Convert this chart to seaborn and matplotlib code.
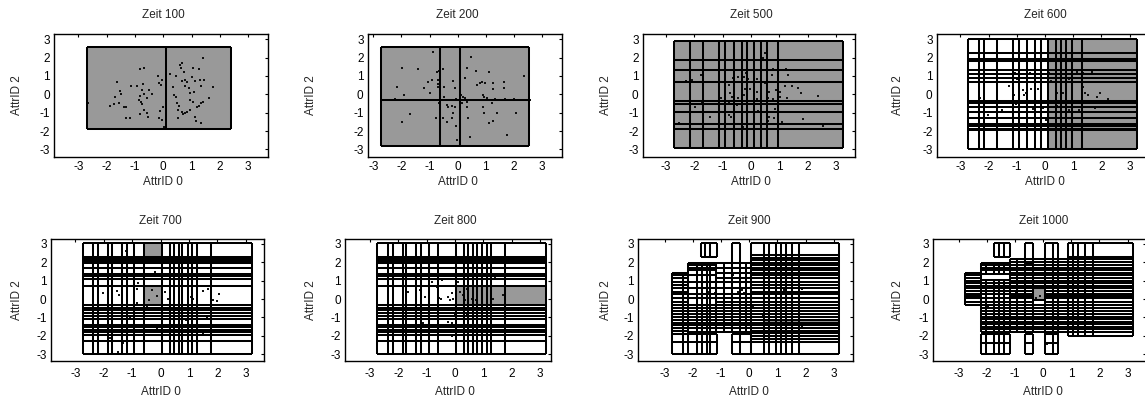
import matplotlib
matplotlib.use("Agg")
import matplotlib.pyplot as plt
import seaborn as sns

# ---------------- data ----------------
times = [100, 200, 500, 600, 700, 800, 900, 1000]
ticks = [-3, -2, -1, 0, 1, 2, 3]

# points (AttrID 0, AttrID 2)
p100_x = [-2.65, -2.68, -0.82, -0.67, -1.65, -1.53, -1.51, -1.71, -1.88, -1.73, -1.55, -1.39, -1.32, -1.32, -1.18,
          -1.15, -0.94, -0.76, -0.73, -0.82, -0.87, -0.79, -0.68, -0.59, -0.51, -0.40, -0.74, -0.68, -0.59, -0.82,
          -0.53, -0.18, -0.14, -0.06, -0.09, -0.15, -0.04, -0.02, -0.12, 0.02, 0.24, 0.44, 0.59, 0.67, 0.62, 0.73,
          0.76, 0.65, 0.85, 0.33, 0.38, 0.45, 0.49, 0.56, 0.76, 0.91, 1.00, 1.12, 1.29, 1.44, 0.96, 1.08, 1.35, 1.39,
          1.26, 1.06, 0.65, 0.71, 0.78, 0.85, 0.96, 1.06, 0.94, 1.18, 1.27, 1.35, 1.41, 1.62, 1.76, 1.12, 1.15, 1.34,
          0.51, 0.53]
p100_y = [-0.49, 0.27, 1.38, 1.44, 0.69, 0.20, 0.02, -0.16, -0.64, -0.53, -0.45, -0.71, -0.71, -1.31, -1.31,
          0.45, 0.45, 0.24, 0.56, -0.07, -0.31, -0.40, 0.02, -0.18, 0.24, 0.02, -0.55, -0.85, -1.00, -1.09,
          -1.22, 1.00, 0.60, 0.78, 0.49, -1.31, -1.40, -0.71, -0.89, -1.76, 1.11, 1.00, 1.60, 1.69, 1.42, 1.24,
          0.78, 0.75, 0.69, 0.38, -0.04, -0.13, -0.45, -0.64, 0.45, 0.33, 0.96, 0.75, 0.78, 0.78, 0.05, 0.15, 0.45, 1.96,
          1.38, 1.42, -0.95, -1.07, -1.04, -0.95, -0.85, -0.40, -0.31, -0.67, -0.64, -0.49, -0.40, -0.22, 0.38, -1.22, -1.44, -1.55,
          -1.31, -0.85]

p200_x = [-0.87, -1.99, -1.42, -2.17, -2.23, -1.90, -1.70, -1.99, -1.19, -1.07, -0.93, -0.98, -0.75, -0.66, -0.69,
          -0.71, -0.69, -0.65, -0.66, -0.78, -0.51, -0.47, -0.47, -0.39, -0.33, -0.37, -0.51, -0.21, -0.18, -0.09,
          -0.07, -0.09, -0.15, -0.21, -0.07, -0.04, 0.46, 0.32, 0.26, 0.12, 0.20, 0.26, 0.32, 0.32, 0.36, 0.14, 0.44,
          0.65, 0.68, 0.79, 0.85, 0.97, 0.89, 0.95, 1.03, 1.12, 0.89, 0.94, 1.27, 1.27, 1.33, 1.21, 1.27, 1.12, 1.39,
          1.63, 1.66, 1.68, 1.74, 2.02, 2.08, 2.37, 2.57]
p200_y = [2.33, 1.45, 1.38, 0.38, -0.27, -0.04, -1.09, -1.49, 0.33, 0.69, 0.78, 0.09, 1.24, 1.29, 0.78,
          0.55, 0.42, -0.31, -0.49, -1.31, 1.36, 0.38, -0.13, -0.58, -0.67, -1.49, -1.31, -0.64, 0.75, 0.33,
          -0.27, -0.71, -1.04, -1.31, -1.73, -2.49, 2.05, 1.42, 0.91, -0.04, -0.13, -0.22, -0.40, -0.67, -1.27, -0.49, -2.35,
          1.29, 0.51, 0.60, 0.69, 0.64, -0.04, -0.13, -0.22, 1.24, -0.71, -1.04, 0.64, 0.27, -0.27, -0.45, -1.44, -1.58, -1.04,
          0.69, 0.33, -0.27, -2.22, -0.27, -1.04, 1.00, -0.31]

p500_x = [0.49, 0.41, -1.76, -2.07, -2.31, 0.76, 1.22, 1.29, 0.73, 0.22, -0.09, -0.18, -0.24, -0.65, -0.45,
          -0.76, 0.49, 1.20, 1.44, 1.65, 1.76, 2.35, 1.02, 0.88, 0.65, 0.20, -0.04, -0.21, -0.24, -0.74, -0.68,
          -1.12, -0.92, -1.04, -0.76, -0.45, -0.15, -0.04, 0.22, 0.61, 0.76, 1.02, 1.26, -1.74, -1.98, -1.45,
          -0.76, -0.72, -0.51, 0.26, 0.85, 0.91, 0.65, 0.61, 0.82, 1.08, 1.85, 2.55, -2.53, -0.29]
p500_y = [2.26, 1.96, 1.05, 0.78, 0.74, 1.36, 1.36, 1.05, 1.05, 0.83, 0.82, 1.14, 0.96, 0.91, 0.96,
          0.51, 0.60, 0.45, 0.45, 0.36, 0.05, -0.07, 0.14, 0.24, 0.14, 0.14, 0.27, 0.27, -0.04, 0.05, -0.13,
          0.18, -0.40, -0.22, -0.40, -0.18, -0.27, -0.34, -0.27, -0.22, -0.27, -0.13, -0.22, -0.49, -0.71, -1.25,
          -1.12, -1.25, -0.58, -0.89, -0.80, -0.94, -1.25, -1.45, -1.30, -1.52, -1.34, -1.72, -1.54, -1.79]

p600_x = [-2.30, -2.01, -1.54, -1.26, -1.06, -0.98, -1.10, -0.77, -0.74, -0.67, -0.63, -0.53, -0.50, -0.41,
          -0.24, -0.15, -0.06, 0.04, 0.15, 0.21, 0.41, 0.44, 0.65, 0.85, 0.86, 1.12, 1.19, 1.36, 1.36, 1.42,
          1.54, 1.65, 1.77, 1.95, 1.83, 2.25, -0.65, -1.03]
p600_y = [-0.18, -1.12, -0.85, 0.45, 1.14, 0.82, -0.04, 0.24, -0.04, 0.05, -0.76, 1.14, 0.27, -0.82,
          0.27, 0.05, -0.76, -1.39, 1.14, 0.74, -0.63, 0.05, 0.05, 0.82, -0.85, 1.23, -0.85, 1.14, 0.42, 0.05,
          -0.04, 1.23, -0.76, 0.09, -0.13, -0.27, -0.53, -0.53]

p700_x = [-2.02, -1.52, -1.45, -1.20, -0.84, -0.84, -1.22, -0.90, -1.78, -1.31, -1.49, 0.77, 1.06, 1.15,
          1.50, 1.68, 2.06, 1.97, 0.74, 0.27, 0.15, -0.14, -0.32, -0.41, -0.49, -0.20, 0.21, 0.56, -0.12,
          0.91, 1.27, 1.62, 3.02, 1.48, -0.75, -1.08, 1.85, -0.20, -0.79]
p700_y = [0.34, 0.45, 0.22, -0.05, 0.52, -0.24, 2.62, -1.68, -2.13, -2.40, -2.86, 0.94, 0.13, 0.02,
          0.45, 0.52, 0.25, -0.09, -0.14, -0.02, 0.40, 0.16, 0.49, -0.05, -0.42, -0.78, -0.60, -0.78, -1.56,
          -1.14, -0.60, -0.96, -0.60, -1.86, -0.78, -1.05, -0.05, 1.48, 0.85]

p800_x = [-1.06, -0.91, -0.82, -0.47, -0.65, -1.24, -1.65, -1.06, -0.56, -0.49, -0.24, -0.18, -0.12, -0.06,
          0.12, 0.18, 0.29, 0.35, 0.41, 0.59, 0.76, 1.35, 1.71, -0.92, -0.47, -0.24, -0.12, 0.00, -0.59,
          -0.12, 0.41, 1.41, 1.06, 0.12, -0.29, -1.12, -0.59]
p800_y = [1.66, 0.94, 0.94, 1.03, 0.63, 0.49, 0.40, 0.13, 0.04, -0.02, 0.13, -0.05, 0.31, -0.02,
          0.94, 0.40, 0.22, -0.05, 0.52, -0.02, -0.05, -0.02, 0.22, -0.27, -0.78, -1.23, -1.28, -0.87, -1.18,
          -2.00, -0.87, 1.12, 1.66, 2.03, 2.03, -1.32, -0.24]

p900_x = [-1.46, -1.23, -0.47, -0.41, -0.26, -0.18, 0.44, 1.05, 1.23, 1.87, 0.12, 0.29, 0.47, -0.47,
          -0.88, -1.29, 0.88, 1.17, 1.87, -1.05, -0.58]
p900_y = [0.37, 0.31, 0.59, 0.40, 0.50, 0.31, 0.59, 0.59, 0.50, 0.55, -0.42, -0.51, -0.88, -0.97,
          -0.97, -0.97, -1.43, -1.34, -1.52, 0.95, 1.32]

p1000_x = [-1.95, -1.12, -0.97, -0.26, -0.12, 0.95, 1.18, 2.19, 1.36, 1.54, 0.12, -1.95, -0.59]
p1000_y = [0.04, 0.13, 0.31, 0.04, 0.18, -0.33, 0.22, -0.79, 1.14, -1.52, -2.44, -0.42, -1.06]

# grid cells: blocks of (x boundaries, y boundaries)
grid100 = [([-2.71, 0.08, 2.38], [-1.91, 2.58])]
grid200 = [([-2.74, -0.63, 0.07, 2.54], [-2.80, -0.31, 2.58])]
grid500 = [([-2.72, -2.15, -1.68, -1.13, -0.90, -0.60, -0.33, -0.15, 0.11, 0.34, 0.55, 0.96, 3.24],
            [-2.90, -1.90, -1.63, -0.95, -0.53, -0.36, 0.65, 1.32, 1.86, 2.90])]
grid600 = [([-2.72, -2.33, -2.15, -1.69, -1.15, -0.92, -0.63, -0.35, -0.15, 0.10, 0.38, 0.57, 0.73, 0.97, 1.32, 3.25],
            [-2.99, -1.94, -1.87, -1.72, -1.61, -1.30, -0.95, -0.71, -0.49, -0.36, 0.68, 0.87, 1.09, 1.32, 1.80,
             1.90, 2.26, 3.00])]
x_late = [-2.74, -2.38, -2.19, -1.85, -1.72, -1.37, -1.20, -0.93, -0.59, 0.04, 0.33, 0.47, 0.65, 0.77, 0.97,
          1.12, 1.29, 1.76, 3.20]
y_late = [-2.98, -2.28, -1.93, -1.79, -1.66, -1.54, -1.41, -1.08, -0.94, -0.78, -0.61, -0.47, -0.34, 0.71, 1.10,
          1.23, 1.36, 1.66, 1.95, 2.08, 2.19, 2.30, 3.05]
grid700 = [(x_late, y_late)]
grid800 = [(x_late, y_late)]

y900_right = [-2.35, -2.17, -1.98, -1.85, -1.72, -1.58, -1.43, -1.28, -1.15, -0.97, -0.81, -0.66, -0.51, -0.33,
              -0.15, 0.04, 0.26, 0.40, 0.59, 0.77, 0.95, 1.14, 1.28, 1.41, 1.55, 1.69, 1.83, 1.96, 2.10, 2.25, 2.39]
y900_mid = [-1.80, -1.58, -1.43, -1.28, -1.15, -0.97, -0.81, -0.66, -0.51, -0.33, -0.15, 0.04, 0.26, 0.59, 0.95,
            1.14, 1.41, 1.69, 1.96]
y900_lmid = [-1.80, -1.58, -1.43, -1.28, -1.15, -0.97, -0.81, -0.66, -0.51, -0.33, 0.04, 0.26, 0.59, 0.95, 1.28,
             1.55, 1.69, 1.83, 1.96]
y900_left = [-1.89, -1.72, -1.58, -1.43, -1.28, -1.15, -0.97, -0.81, -0.66, -0.51, -0.33, -0.15, 0.04, 0.26,
             0.40, 0.59, 0.77, 0.95, 1.14, 1.28, 1.41]
grid900 = [
    ([-1.72, -1.56, -1.38, -1.14], [2.29, 3.05]),
    ([-0.62, -0.32], [1.96, 3.05]),
    ([0.06, 0.53, 0.70, 0.94, 1.11, 1.29, 1.50, 1.75, 3.18], [-2.98, -2.35]),
    ([0.06, 0.53, 0.70, 0.94, 1.11, 1.29, 1.50, 1.75, 3.18], [2.39, 3.05]),
    ([0.06, 0.53, 0.70, 0.94, 1.11, 1.29, 1.50, 1.75, 3.18], y900_right),
    ([-1.17, -0.90, -0.62, -0.32, -0.12, 0.06], y900_mid),
    ([-2.16, -1.84, -1.67, -1.50, -1.38, -1.17], y900_lmid),
    ([-2.73, -2.34, -2.16], y900_left),
    ([-2.73, -2.34, -2.16, -1.84, -1.67, -1.50, -1.38, -1.13], [-2.98, -2.35, -1.89]),
    ([-0.62, -0.32, 0.06], [-2.98, -2.35, -1.89]),
]

y1000_right = [-1.98, -1.80, -1.65, -1.52, -1.38, -1.25, -1.10, -0.95, -0.80, -0.66, -0.51, -0.33, -0.15, 0.04,
               0.15, 0.28, 0.42, 0.59, 0.72, 0.86, 1.00, 1.14, 1.28, 1.42, 1.56, 1.70, 1.85, 2.00, 2.15, 2.29]
y1000_mid = [-1.80, -1.65, -1.52, -1.38, -1.25, -1.10, -0.95, -0.80, -0.66, -0.51, -0.33, -0.15, 0.04,
             0.15, 0.28, 0.42, 0.59, 0.72, 0.86, 1.00, 1.14, 1.28, 1.42, 1.56, 1.70, 1.85, 2.00, 2.15]
y1000_centre = [-1.80, -1.65, -1.52, -1.38, -1.25, -1.10, -0.95, -0.80, -0.66, -0.51, -0.33, -0.05, 0.59,
                0.72, 0.86, 1.00, 1.14, 1.28, 1.42, 1.56, 1.70, 1.85, 2.00, 2.15]
y1000_lmid = [-1.80, -1.65, -1.52, -1.38, -1.25, -1.10, -0.95, -0.80, -0.66, -0.51, -0.33, -0.15, 0.04, 0.28,
              0.42, 0.59, 0.72, 0.86, 1.05]
y1000_left = [-0.33, -0.15, 0.04, 0.15, 0.28, 0.42, 0.59, 0.72, 0.86, 1.00, 1.14, 1.28, 1.41]
grid1000 = [
    ([-1.75, -1.57, -1.40, -1.18], [2.29, 3.05]),
    ([-0.65, -0.36], [1.96, 3.05]),
    ([0.06, 0.36, 0.53], [2.15, 3.05]),
    ([0.89, 1.07, 1.24, 1.48, 1.78, 3.20], [2.29, 3.05]),
    ([0.89, 1.07, 1.24, 1.48, 1.78, 3.20], y1000_right),
    ([-1.18, -0.92, -0.65, -0.36], y1000_mid),
    ([-0.36, 0.06], y1000_centre),
    ([0.06, 0.36, 0.53, 0.89], y1000_mid),
    ([0.06, 0.36, 0.53], [-2.99, -2.40, -1.89, -1.80]),
    ([-0.65, -0.36], [-2.99, -2.40, -1.89]),
    ([-2.22, -2.04, -1.75, -1.57, -1.40, -1.18], [-2.99, -2.40, -1.89]),
    ([-2.22, -2.04, -1.75, -1.57, -1.40, -1.18], [1.36, 1.56, 1.70, 1.85, 1.96]),
    ([-2.22, -2.04, -1.75, -1.57, -1.40, -1.18], y1000_lmid),
    ([-2.80, -2.22], y1000_left),
]

# gray (active) cells: (x0, x1, y0, y1)
fill100 = [(-2.71, 2.38, -1.91, 2.58)]
fill200 = [(-2.74, 2.54, -2.80, 2.58)]
fill500 = [(-2.72, 3.24, -2.90, 2.90)]
fill600 = [(0.10, 3.25, -2.99, 3.00)]
fill700 = [(-0.59, 0.04, 2.30, 3.05), (-0.59, 0.04, -0.34, 0.71)]
fill800 = [(0.04, 3.20, -0.34, 0.71)]
fill900 = [(0.53, 3.18, -1.43, -1.10)]
fill1000 = [(-0.36, 0.06, -0.05, 0.59)]

points = [(p100_x, p100_y), (p200_x, p200_y), (p500_x, p500_y), (p600_x, p600_y),
          (p700_x, p700_y), (p800_x, p800_y), (p900_x, p900_y), (p1000_x, p1000_y)]
grids = [grid100, grid200, grid500, grid600, grid700, grid800, grid900, grid1000]
fills = [fill100, fill200, fill500, fill600, fill700, fill800, fill900, fill1000]

# ---------------- layout (pixels) ----------------
W, H = 1145, 400
axes_px = [(54.3, 34.3, 268.3, 156.7), (367.7, 34.3, 561.7, 156.7), (642.7, 34.3, 855.0, 156.7),
           (936.7, 34.3, 1148.5, 156.7), (50.7, 239.3, 264.3, 361.0), (345.0, 239.3, 550.7, 361.0),
           (638.3, 239.3, 852.7, 361.0), (933.3, 239.3, 1146.4, 361.0)]
xlims = [(-3.85, 3.71), (-3.20, 3.70), (-3.82, 3.67), (-3.84, 3.67),
         (-3.87, 3.65), (-3.88, 3.38), (-3.94, 3.67), (-3.91, 3.67)]
ylims = [(-3.40, 3.27)] * 4 + [(-3.36, 3.24)] * 4
title_y_px = [15.0, 220.7]
xlabel_y_px = [181.7, 391.7]
ylabel_x_px = [16.7, 311.5, 606.0, 898.0]
xtick_pad = [2.8, 5.0]

GRAY = "#999999"
LW = 1.45

sns.set_theme(style="white")
plt.rcParams["font.family"] = ["Liberation Sans", "DejaVu Sans"]
plt.rcParams["axes.unicode_minus"] = False
FS = 8.5

fig = plt.figure(figsize=(W / 100, H / 100), dpi=100)
fig.patch.set_facecolor("white")

for i in range(8):
    l, t, r, b = axes_px[i]
    ax = fig.add_axes([l / W, 1 - b / H, (r - l) / W, (b - t) / H])
    ax.set_facecolor("white")
    row, col = divmod(i, 4)

    for (x0, x1, y0, y1) in fills[i]:
        ax.fill_between([x0, x1], [y0, y0], [y1, y1], color=GRAY, lw=0, zorder=1)

    px, py = points[i]
    sns.scatterplot(x=px, y=py, ax=ax, s=3, color="#111111", marker="s", linewidth=0,
                    legend=False, zorder=2)

    for xs, ys in grids[i]:
        ax.vlines(xs, min(ys), max(ys), colors="black", lw=LW, zorder=3)
        ax.hlines(ys, min(xs), max(xs), colors="black", lw=LW, zorder=3)

    ax.set_xlim(*xlims[i])
    ax.set_ylim(*ylims[i])
    ax.set_xticks(ticks)
    ax.set_yticks(ticks)
    ax.set_xticklabels([str(v) for v in ticks])
    ax.set_yticklabels([str(v) for v in ticks])
    ax.tick_params(direction="in", length=2.5, width=0.8, top=True, right=True,
                   labelsize=FS, colors="black")
    ax.tick_params(axis="x", pad=xtick_pad[row])
    ax.tick_params(axis="y", pad=3.0)
    for s in ax.spines.values():
        s.set_color("black")
        s.set_linewidth(1.0)
        s.set_zorder(4)

    x0l, x1l = xlims[i]
    fx0 = (0 - x0l) / (x1l - x0l)
    ax.set_title(f"Zeit {times[i]}", fontsize=FS, pad=0, x=fx0,
                 y=(b - title_y_px[row]) / (b - t), va="center")
    ax.set_xlabel("AttrID 0", fontsize=FS, va="center")
    ax.xaxis.set_label_coords(fx0, (b - xlabel_y_px[row]) / (b - t))
    ax.set_ylabel("AttrID 2", fontsize=FS, va="center", ha="center")
    ax.yaxis.set_label_coords((ylabel_x_px[col] - l) / (r - l), 0.5)

fig.savefig("out.png", dpi=100, facecolor="white")
